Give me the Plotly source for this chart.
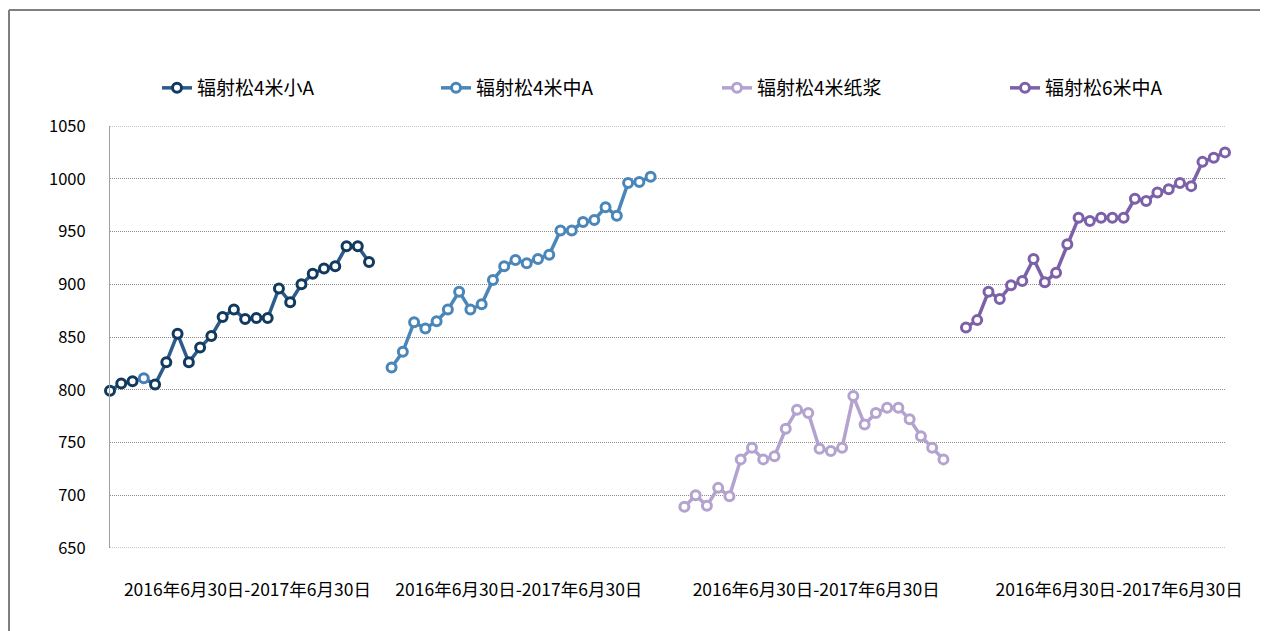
import plotly.graph_objects as go

series_names = ["辐射松4米小A", "辐射松4米中A", "辐射松4米纸浆", "辐射松6米中A"]

s1_values = [799, 806, 808, 811, 805, 826, 853, 826, 840, 851, 869, 876, 867, 868, 868, 896,
             883, 900, 910, 915, 917, 936, 936, 921]
s2_values = [821, 836, 864, 858, 865, 876, 893, 876, 881, 904, 917, 923, 920, 924, 928, 951,
             951, 959, 961, 973, 965, 996, 997, 1002]
s3_values = [689, 700, 690, 707, 699, 734, 745, 734, 737, 763, 781, 778, 744, 742, 745, 794,
             767, 778, 783, 783, 772, 756, 745, 734]
s4_values = [859, 866, 893, 886, 899, 903, 924, 902, 911, 938, 963, 960, 963, 963, 963, 981,
             979, 987, 990, 996, 993, 1016, 1020, 1025]

period_label = "2016年6月30日-2017年6月30日"
y_ticks = [650, 700, 750, 800, 850, 900, 950, 1000, 1050]
y_range = [650, 1050]

all_values = [s1_values, s2_values, s3_values, s4_values]

# layout constants (category slots on the shared axis)
group_start = [0, 25, 51, 76]
label_slots = [12.2, 36.3, 62.7, 89.6]
legend_px = [149, 428, 709, 997]
line_colors = ["#2D5B8C", "#4A86B8", "#B3A3CE", "#7D61A8"]
marker_colors = ["#113A5E", "#4A86B8", "#B3A3CE", "#7D61A8"]
legend_ids = ["legend", "legend2", "legend3", "legend4"]

font_family = "Noto Sans CJK SC, Noto Sans, sans-serif"
# page body adds an 8px offset; figure is sized to fill the rest of the window
W, H = 1260, 623
ML, MR, MT, MB = 102, 43, 118, 83
PW, PH = W - ML - MR, H - MT - MB
grid_color = "#8C8C8C"

fig = go.Figure()
for i, (name, vals) in enumerate(zip(series_names, all_values)):
    xs = [group_start[i] + k for k in range(len(vals))]
    mcol = [marker_colors[i]] * len(vals)
    if i == 0:
        mcol[3] = "#4A7FB5"
    fig.add_trace(go.Scatter(
        x=xs, y=vals, name=name, mode="lines+markers",
        line=dict(color=line_colors[i], width=3.5),
        marker=dict(symbol="circle", size=9, color="white",
                    line=dict(color=mcol, width=3)),
        cliponaxis=False, legend=legend_ids[i],
    ))

legend_common = dict(orientation="h", xref="container", yref="container",
                     xanchor="left", yanchor="middle", y=1 - 80 / H,
                     font=dict(size=19, family=font_family),
                     bgcolor="rgba(0,0,0,0)")
legends = {lid: dict(legend_common, x=legend_px[i] / W) for i, lid in enumerate(legend_ids)}

edge_grid = [dict(type="line", xref="paper", yref="y", x0=0, x1=1, y0=v, y1=v,
                  layer="below", line=dict(color=grid_color, width=1, dash="1px,1px"))
             for v in y_range]

fig.update_layout(
    width=W, height=H,
    margin=dict(l=ML, r=MR, t=MT, b=MB, autoexpand=False),
    paper_bgcolor="white", plot_bgcolor="white",
    font=dict(family=font_family, color="#000000", size=16),
    showlegend=True,
    xaxis=dict(range=[0, 99], showgrid=False, zeroline=False, showline=False,
               tickmode="array", tickvals=label_slots,
               ticktext=[period_label] * len(label_slots),
               ticks="", ticklabelstandoff=29,
               tickfont=dict(size=17.5, family=font_family)),
    yaxis=dict(range=y_range, tickmode="array", tickvals=y_ticks,
               showgrid=True, gridcolor=grid_color, griddash="1px,1px", gridwidth=1,
               zeroline=False, showline=True, linecolor="#A0A0A0", linewidth=1,
               ticks="", ticklabelstandoff=20,
               tickfont=dict(size=16.5, family=font_family)),
    shapes=edge_grid + [
        dict(type="line", xref="paper", yref="paper",
             x0=(1 - ML) / PW, x1=(W - ML) / PW,
             y0=(MT + PH - 2) / PH, y1=(MT + PH - 2) / PH,
             line=dict(color="#7F7F7F", width=2)),
        dict(type="line", xref="paper", yref="paper",
             x0=(1 - ML) / PW, x1=(1 - ML) / PW,
             y0=(MT + PH - 2) / PH, y1=(MT + PH - H) / PH,
             line=dict(color="#7F7F7F", width=2)),
    ],
    **legends,
)

fig.write_html("out.html")
